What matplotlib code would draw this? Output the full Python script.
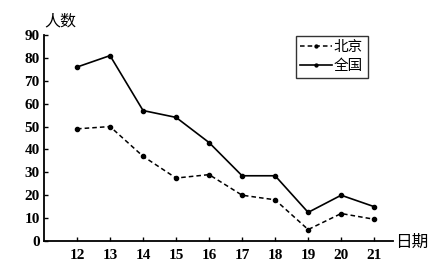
import matplotlib
matplotlib.use("Agg")
import matplotlib.pyplot as plt

# data
days = [12, 13, 14, 15, 16, 17, 18, 19, 20, 21]
beijing = [49, 50, 37, 27.5, 29, 20, 18, 5, 12, 9.5]
national = [76, 81, 57, 54, 43, 28.5, 28.5, 12.5, 20, 15]
yticks = list(range(0, 100, 10))

CJK = ["Noto Sans CJK SC", "DejaVu Sans"]
NUM = "Liberation Serif"

fig = plt.figure(figsize=(4.38, 2.71), dpi=100)
ax = fig.add_axes([44 / 438, 1 - 241 / 271, (393 - 44) / 438, (241 - 35) / 271])

ax.plot(days, beijing, color="black", lw=1.1, dashes=(3, 2),
        marker="o", markersize=3, label="北京")
ax.plot(days, national, color="black", lw=1.2,
        marker="o", markersize=3, label="全国")

ax.set_xlim(11, 21.57)
ax.set_ylim(0, 90)
ax.set_xticks(days)
ax.set_yticks(yticks)
ax.tick_params(direction="in", length=3, width=1, pad=3)
for lab in ax.get_xticklabels() + ax.get_yticklabels():
    lab.set_fontfamily(NUM)
    lab.set_fontsize(11)
    lab.set_fontweight("bold")
ax.tick_params(axis="x", pad=6)

for s in ["top", "right"]:
    ax.spines[s].set_visible(False)
for s in ["left", "bottom"]:
    ax.spines[s].set_linewidth(1.3)

fig.text(44 / 438, 1 - 29 / 271, "人数", family=CJK, fontsize=11.5, va="bottom", ha="left")
fig.text(395 / 438, 1 - 242 / 271, "日期", family=CJK, fontsize=12, va="center", ha="left")

leg = ax.legend(loc="upper left", bbox_to_anchor=((296 - 44) / 349, 1 - 1 / 206),
                prop={"family": CJK, "size": 10.5}, frameon=True, fancybox=False,
                edgecolor="black", handlelength=2.2, handletextpad=0.1,
                borderpad=0.3, labelspacing=0.35, borderaxespad=0,
                markerscale=0.7)
leg.get_frame().set_linewidth(1.0)

fig.savefig("out.png", dpi=100)
plt.close(fig)
